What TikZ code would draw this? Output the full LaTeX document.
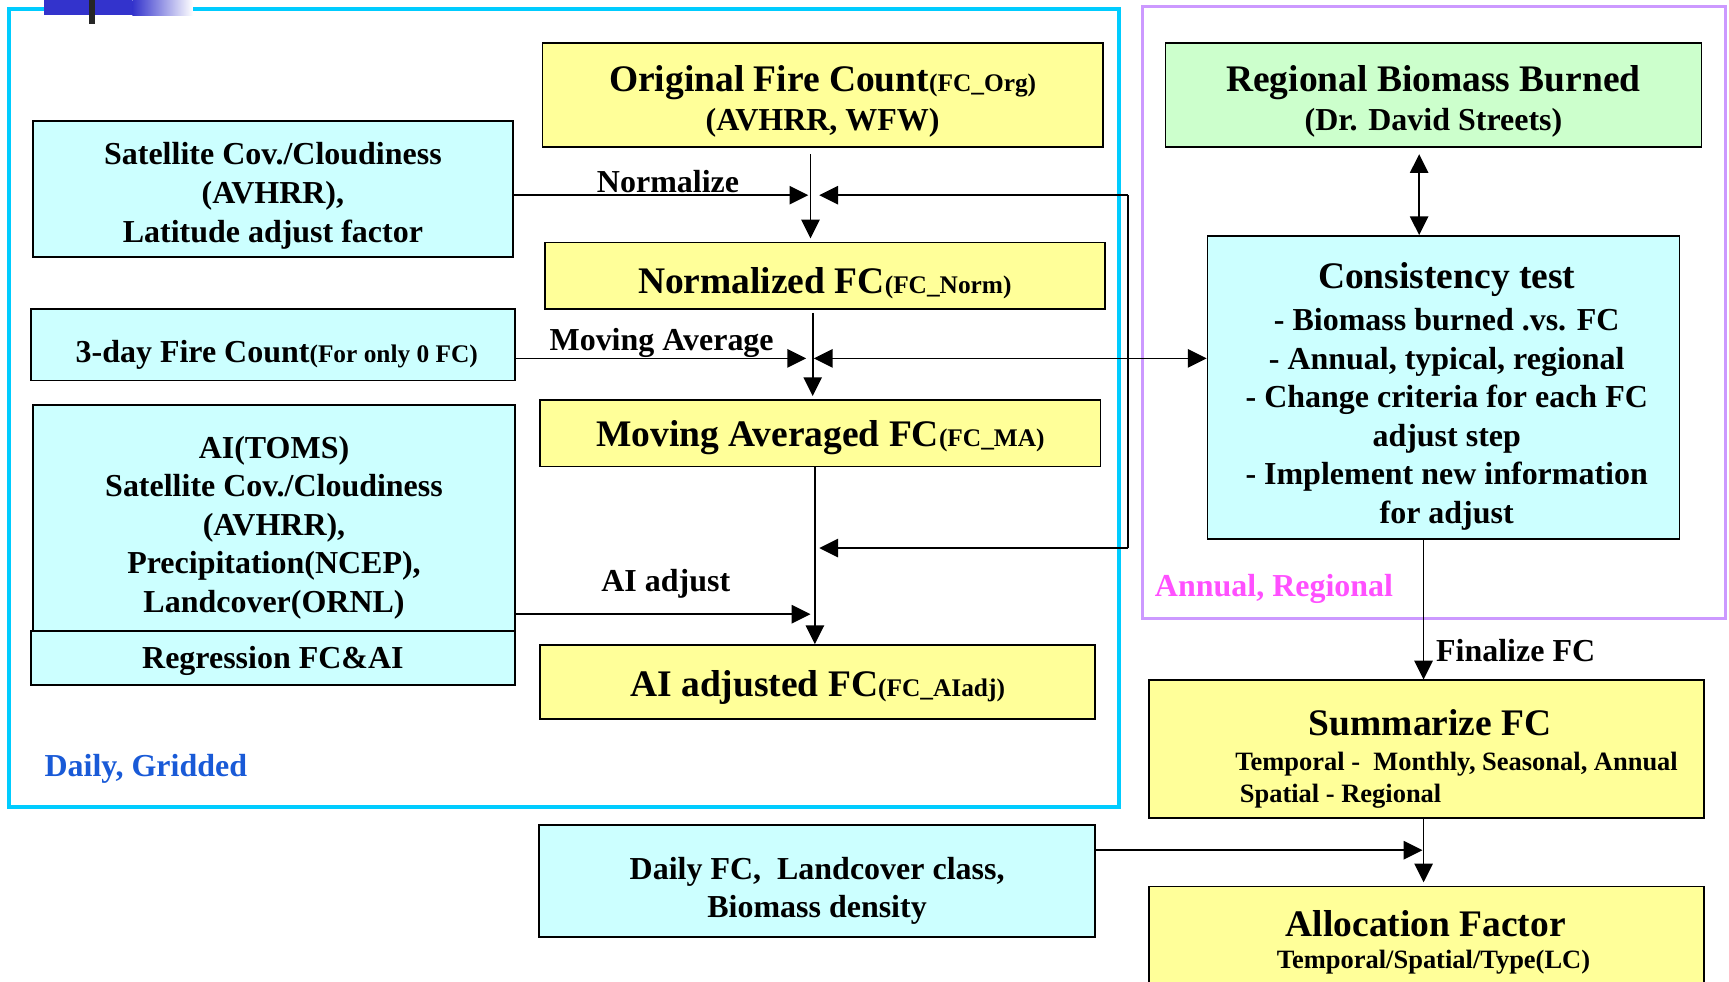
\documentclass[tikz,border=0pt]{standalone}
\usepackage{fontspec}
\setmainfont{Liberation Serif}
\usetikzlibrary{arrows.meta,calc}
\definecolor{yboxc}{RGB}{255,255,153}
\definecolor{cboxc}{RGB}{204,255,255}
\definecolor{gboxc}{RGB}{204,255,204}
\definecolor{cyanframe}{RGB}{0,204,255}
\definecolor{purpframe}{RGB}{204,153,255}
\definecolor{dgblue}{RGB}{25,90,215}
\definecolor{annmag}{RGB}{255,80,255}
\definecolor{decoblue}{RGB}{51,51,204}
\newcommand{\HdF}{\fontsize{17}{17.5}\selectfont}
\newcommand{\SuF}{\fontsize{11.5}{14}\selectfont}
\newcommand{\SbF}{\fontsize{12}{14}\selectfont}
\begin{document}
\begin{tikzpicture}[x=0.5pt,y=-0.5pt,
  every node/.style={font=\bfseries\fontsize{14.5}{17.5}\selectfont, inner sep=0pt},
  boxbase/.style={draw=black, line width=0.8pt, rectangle},
  ybx/.style={boxbase, fill=yboxc},
  cbx/.style={boxbase, fill=cboxc},
  gbx/.style={boxbase, fill=gboxc},
  txt/.style={align=center},
  tipA/.tip={Triangle[length=8.5pt,width=8.3pt]},
  arr/.style={-tipA, line width=0.8pt},
  darr/.style={tipA-tipA, line width=0.8pt},
  plain/.style={line width=0.8pt},
  frame/.style={line width=1.6pt}]
\useasboundingbox (0,0) rectangle (1568,890);
\clip (0,0) rectangle (1568,890);

% frames
\draw[frame, cyanframe] (8,8) rectangle (1015,732);
\draw[frame, purpframe] (1036,6) rectangle (1565,561);

% decoration top-left
\fill[decoblue] (40,0) rectangle (120,14);
\shade[left color=decoblue, right color=white] (120,0) rectangle (175,14);
\fill[black!85] (81,0) rectangle (86,22);

% boxes
\node[ybx, minimum width=254pt, minimum height=47pt] (orig) at (746,86) {};
\node[cbx, minimum width=217.5pt, minimum height=61.5pt] (sat) at (247.5,171.5) {};
\node[ybx, minimum width=254pt, minimum height=30pt] (norm) at (748,250) {};
\node[cbx, minimum width=219.5pt, minimum height=32.5pt] (three) at (247.5,312.5) {};
\node[ybx, minimum width=254pt, minimum height=30pt] (ma) at (744,393) {};
\node[cbx, minimum width=218.5pt, minimum height=102.5pt] (aitoms) at (248.5,469.5) {};
\node[cbx, minimum width=219.5pt, minimum height=24.5pt] (regr) at (247.5,596.5) {};
\node[ybx, minimum width=251.5pt, minimum height=33.5pt] (aiadj) at (741.5,618.5) {};
\node[gbx, minimum width=243pt, minimum height=47pt] (rbb) at (1300,86) {};
\node[cbx, minimum width=214pt, minimum height=137.5pt] (cons) at (1309,351.5) {};
\node[ybx, minimum width=251.5pt, minimum height=62.5pt] (summ) at (1293.5,679.5) {};
\node[cbx, minimum width=252pt, minimum height=51pt] (daily) at (741,799) {};
\node[ybx, minimum width=251.5pt, minimum height=63pt] (alloc) at (1293.5,867) {};

% box texts
\node[txt] (origT) at (746,92)
  {{\HdF Original Fire Count}{\SuF(FC\_Org)}\\(AVHRR, WFW)};
\node[txt] (satT) at (247.5,177.5)
  {Satellite Cov./Cloudiness\\(AVHRR),\\Latitude adjust factor};
\node[txt] (normT) at (748,257) {{\HdF Normalized FC}{\SuF(FC\_Norm)}};
\node[txt] (threeT) at (251,321.5) {3-day Fire Count{\SuF(For only 0 FC)}};
\node[txt] (maT) at (744,397) {{\HdF Moving Averaged FC}{\SuF(FC\_MA)}};
\node[txt] (aitomsT) at (248.5,478.5)
  {AI(TOMS)\\Satellite Cov./Cloudiness\\(AVHRR),\\Precipitation(NCEP),\\Landcover(ORNL)};
\node[txt] (regrT) at (247.5,599.5) {Regression FC\&AI};
\node[txt] (aiadjT) at (741.5,623.5) {{\HdF AI adjusted FC}{\SuF(FC\_AIadj)}};
\node[txt] (rbbT) at (1300,92) {{\HdF Regional Biomass Burned}\\(Dr. David Streets)};
\node[txt] (consT) at (1312,359.5)
  {{\HdF Consistency test}\\[1.5pt]- Biomass burned .vs. FC\\- Annual, typical, regional\\- Change criteria for each FC\\adjust step\\- Implement new information\\for adjust};
\node[txt] (dailyT) at (741,808) {Daily FC,~ Landcover class,\\Biomass density};
\node (summT) at (1297,655) {\HdF Summarize FC};
\node[anchor=west] (summA) at (1120,693) {\SbF Temporal -~ Monthly, Seasonal, Annual};
\node[anchor=west] (summB) at (1124,722) {\SbF Spatial - Regional};
\node (allocT) at (1293,838) {\HdF Allocation Factor};
\node (allocA) at (1300,873) {\SbF Temporal/Spatial/Type(LC)};

% labels
\node[anchor=west] (lnorm) at (541,165) {Normalize};
\node[anchor=west] (lma) at (498,311) {Moving Average};
\node[anchor=west] (lai) at (545,529) {AI adjust};
\node[anchor=west] (lfin) at (1302,590) {Finalize FC};
\node[anchor=west, text=dgblue] (ldg) at (40,697) {Daily, Gridded};
\node[anchor=west, text=annmag] (lar) at (1047,534) {Annual, Regional};

% junction coordinates
\coordinate (j1) at (735,177);
\coordinate (j1L) at (733,177);
\coordinate (j1R) at (743,177);
\coordinate (xB) at (737,300);
\coordinate (j2L) at (731,325);
\coordinate (j2R) at (738,325);
\coordinate (xC) at (739,500);
\coordinate (j3R) at (743,497);
\coordinate (j4) at (735,557);
\coordinate (fbT) at (1023,177);
\coordinate (fbB) at (1023,497);
\coordinate (xR) at (1287,150);
\coordinate (xS) at (1291,600);
\coordinate (j5) at (1290,771);

% connectors
\draw[arr] ($(orig.south -| j1)+(0,6)$) -- ($(norm.north -| j1)+(0,-3)$);
\draw[arr] (sat.east |- j1) -- (j1L);
\draw[plain] (fbT) -- (fbB);
\draw[arr] (fbT) -- (j1R);
\draw[arr] ($(norm.south -| xB)+(0,3)$) -- ($(ma.north -| xB)+(0,-3)$);
\draw[arr] (three.east |- j2L) -- (j2L);
\draw[darr] (j2R) -- (cons.west |- j2R);
\draw[arr] (ma.south -| xC) -- (aiadj.north -| xC);
\draw[arr] (fbB) -- (j3R);
\draw[arr] (aitoms.east |- j4) -- (j4);
\draw[darr] ($(rbb.south -| xR)+(0,6)$) -- (cons.north -| xR);
\draw[arr] (cons.south -| xS) -- (summ.north -| xS);
\draw[arr] (summ.south -| xS) -- ($(alloc.north -| xS)+(0,-3)$);
\draw[arr] (daily.east |- j5) -- (j5);
\end{tikzpicture}
\end{document}
